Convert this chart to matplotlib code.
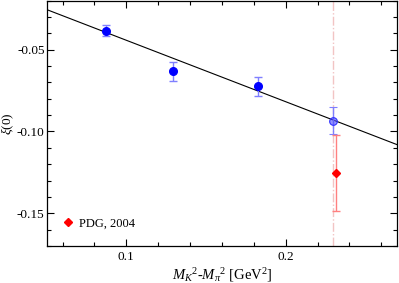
import matplotlib
matplotlib.use('Agg')
import matplotlib.pyplot as plt
from matplotlib.ticker import MultipleLocator
from matplotlib.lines import Line2D

plt.rcParams['font.family'] = ['Liberation Serif', 'DejaVu Serif']
plt.rcParams['mathtext.fontset'] = 'custom'
plt.rcParams['mathtext.it'] = 'Liberation Serif:italic'
plt.rcParams['mathtext.rm'] = 'Liberation Serif'

# lattice points
x_lat = [0.0875, 0.1293, 0.1826]
y_lat = [-0.0384, -0.0633, -0.0725]
e_lat = [0.0033, 0.0056, 0.0056]

# extrapolated point at physical mass
x_phys = [0.2297]
y_phys = [-0.0935]
e_phys = [0.0082]

# PDG, 2004
x_pdg = [0.2314]
y_pdg = [-0.1255]
e_pdg = [0.0231]

# linear fit
x_fit = [0.05, 0.27]
y_fit = [-0.0255, -0.1081]

x_line = 0.2297

fig = plt.figure(figsize=(3.99, 2.83), dpi=100)
ax = fig.add_axes([0.117, 0.1307, 0.8787, 0.8673])

ax.plot(x_fit, y_fit, color='black', lw=0.8)
ax.axvline(x_line, color='#f2c4c4', lw=1.0, ls='-.')

ax.errorbar(x_lat, y_lat, yerr=e_lat, fmt='o', color='#0000ff', ms=5.5,
            ecolor='#7f7fff', elinewidth=1.0, capsize=3, capthick=1.0)
ax.errorbar(x_phys, y_phys, yerr=e_phys, fmt='o', ms=5.5, mfc=(0.3, 0.3, 1, 0.6),
            mec='#3030ff', mew=0.8, ecolor='#7f7fff', elinewidth=1.0, capsize=3, capthick=1.0)
ax.errorbar(x_pdg, y_pdg, yerr=e_pdg, fmt='D', color='#ff0000', ms=4.5,
            ecolor='#ff8080', elinewidth=1.0, capsize=3, capthick=1.0)

ax.set_xlim(0.05, 0.27)
ax.set_ylim(-0.17, -0.02)
ax.xaxis.set_major_locator(MultipleLocator(0.1))
ax.xaxis.set_minor_locator(MultipleLocator(0.02))
ax.yaxis.set_major_locator(MultipleLocator(0.05))
ax.yaxis.set_minor_locator(MultipleLocator(0.01))
ax.xaxis.set_major_formatter(plt.FuncFormatter(lambda v, p: '%.1f' % v))
ax.yaxis.set_major_formatter(plt.FuncFormatter(lambda v, p: '%.2f' % v))
ax.tick_params(which='both', direction='in', top=True, right=True, labelsize=9.5, width=0.8)
ax.tick_params(which='major', length=5)
ax.tick_params(which='minor', length=3)
ax.tick_params(axis='y', which='both', pad=1.5)
ax.tick_params(axis='x', which='both', pad=3.5)
for s in ax.spines.values():
    s.set_linewidth(0.9)

ax.set_ylabel(r'$\xi$(0)', fontsize=9.5)
ax.yaxis.set_label_coords(-0.087, 0.5)
ax.set_xlabel(r'$M_K{}^2$-$M_\pi{}^2$ [GeV$^2$]', fontsize=10.5, labelpad=2)

h = Line2D([], [], marker='D', color='#ff0000', ls='none', ms=4.5)
ax.legend([h], ['PDG, 2004'], loc='lower left', frameon=False, fontsize=9,
          handletextpad=0.4, handlelength=1.0, bbox_to_anchor=(0.01, 0.02))

fig.savefig('out.png', dpi=100)
